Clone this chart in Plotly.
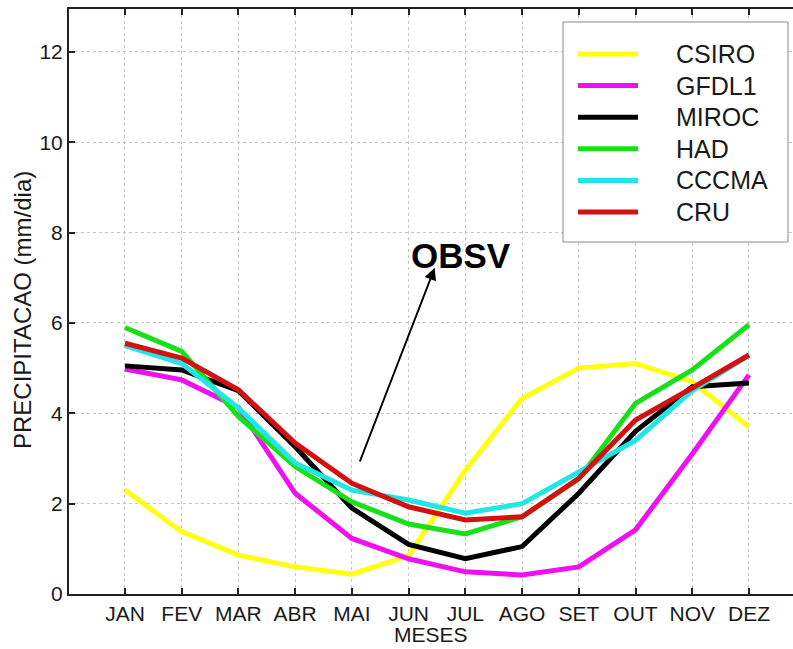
import plotly.graph_objects as go

# Monthly mean precipitation (mm/dia) per model and observations
months = ['JAN', 'FEV', 'MAR', 'ABR', 'MAI', 'JUN', 'JUL', 'AGO', 'SET', 'OUT', 'NOV', 'DEZ']
month_pos = list(range(1, 13))

series_names = ['CSIRO', 'GFDL1', 'MIROC', 'HAD', 'CCCMA', 'CRU']
series_colors = ['#ffff10', '#ee10ee', '#000000', '#18e018', '#20e6e6', '#d41010']

csiro = [2.30, 1.38, 0.86, 0.60, 0.44, 0.85, 2.74, 4.33, 5.00, 5.10, 4.70, 3.70]
gfdl1 = [4.98, 4.74, 4.13, 2.23, 1.23, 0.78, 0.49, 0.42, 0.60, 1.42, 3.10, 4.85]
miroc = [5.05, 4.96, 4.50, 3.26, 1.90, 1.10, 0.78, 1.05, 2.23, 3.60, 4.59, 4.67]
had = [5.90, 5.37, 3.93, 2.82, 2.04, 1.55, 1.33, 1.71, 2.55, 4.22, 4.96, 5.96]
cccma = [5.50, 5.10, 4.12, 2.90, 2.30, 2.08, 1.79, 2.00, 2.70, 3.40, 4.50, 5.28]
cru = [5.55, 5.22, 4.52, 3.34, 2.45, 1.93, 1.64, 1.71, 2.56, 3.85, 4.56, 5.29]
series_values = [csiro, gfdl1, miroc, had, cccma, cru]

y_ticks = [0, 2, 4, 6, 8, 10, 12]

W, H = 793, 649
M_L, M_T, M_B, M_R = 69, 9, 55, 0
PW, PH = W - M_L - M_R, H - M_T - M_B
FONT = 'Liberation Sans, Arial'
TXT = '#1a1a1a'


def px(x):
    return (x - M_L) / PW


def py(y):
    return (H - M_B - y) / PH


fig = go.Figure()
for name, color, vals in zip(series_names, series_colors, series_values):
    fig.add_trace(go.Scatter(
        x=month_pos, y=vals, mode='lines', name=name,
        line=dict(color=color, width=5), showlegend=False,
    ))

# Legend box drawn by hand
shapes = [dict(type='rect', xref='paper', yref='paper',
               x0=px(563), x1=px(788), y0=py(242), y1=py(22),
               fillcolor='white', line=dict(color='#8a8a8a', width=1), layer='above')]
annotations = []
for i, (name, color) in enumerate(zip(series_names, series_colors)):
    yc = 54 + 31.6 * i
    shapes.append(dict(type='line', xref='paper', yref='paper',
                       x0=px(578), x1=px(638), y0=py(yc), y1=py(yc),
                       line=dict(color=color, width=5), layer='above'))
    annotations.append(dict(xref='paper', yref='paper', x=px(674), y=py(yc),
                            text=name, showarrow=False, xanchor='left', yanchor='middle',
                            font=dict(family=FONT, size=25, color=TXT)))

# OBSV label and arrow
annotations.append(dict(x=6.46, y=7.22, ax=5.13, ay=2.9, xref='x', yref='y',
                        axref='x', ayref='y', text='', showarrow=True,
                        arrowhead=2, arrowsize=1.2, arrowwidth=2, arrowcolor='black'))
annotations.append(dict(x=6.92, y=7.5, xref='x', yref='y', text='<b>OBSV</b>',
                        showarrow=False, xanchor='center', yanchor='middle',
                        font=dict(family=FONT, size=35, color='black')))

# Axis titles
annotations.append(dict(xref='paper', yref='paper', x=0.5, y=py(634), text='MESES',
                        showarrow=False, xanchor='center', yanchor='middle',
                        font=dict(family=FONT, size=21, color=TXT)))
annotations.append(dict(xref='paper', yref='paper', x=px(23), y=py(310),
                        text='PRECIPITACAO (mm/dia)', textangle=-90,
                        showarrow=False, xanchor='center', yanchor='middle',
                        font=dict(family=FONT, size=24, color=TXT)))

fig.update_layout(
    width=W, height=H,
    margin=dict(l=M_L, r=M_R, t=M_T, b=M_B),
    paper_bgcolor='white', plot_bgcolor='white',
    shapes=shapes, annotations=annotations,
    font=dict(family=FONT, color=TXT),
)
fig.update_xaxes(
    range=[0.013, 12.776], tickmode='array', tickvals=month_pos, ticktext=months,
    showgrid=True, gridcolor='#c4c4c4', griddash='dot', gridwidth=1,
    showline=True, linecolor='#222', linewidth=2, mirror='ticks',
    ticks='inside', ticklen=6, tickwidth=1.5, tickcolor='#222',
    tickfont=dict(size=21, color=TXT), zeroline=False,
)
fig.update_yaxes(
    range=[0, 12.95], tickmode='array', tickvals=y_ticks,
    showgrid=True, gridcolor='#c4c4c4', griddash='dot', gridwidth=1,
    showline=True, linecolor='#222', linewidth=2,
    ticks='inside', ticklen=6, tickwidth=1.5, tickcolor='#222',
    tickfont=dict(size=21, color=TXT), zeroline=False,
)

fig.write_html('out.html')
